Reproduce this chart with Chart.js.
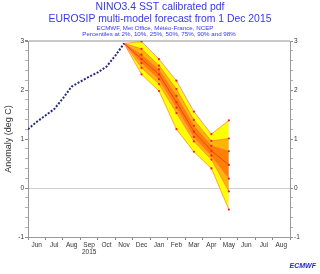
<!DOCTYPE html>
<html>
<head>
<meta charset="utf-8">
<script src="https://cdn.jsdelivr.net/npm/chart.js@4.4.0/dist/chart.umd.min.js"></script>
<style>
  body { margin: 0; background: #fff; }
  canvas { display: block; }
</style>
</head>
<body>
<canvas id="myChart" width="320" height="274"></canvas>
<script>
// month labels along the time axis (Jun 2015 .. Aug 2016)
var months = ['Jun', 'Jul', 'Aug', 'Sep', 'Oct', 'Nov', 'Dec', 'Jan', 'Feb', 'Mar', 'Apr', 'May', 'Jun', 'Jul', 'Aug'];
var yearLabel = '2015';
var yTickLabels = [-1, 0, 1, 2, 3];

// observed anomaly (x in months from 1 Jun 2015)
var obsX = [0, 0.5, 1, 1.5, 2, 2.5, 3, 3.5, 4, 4.5, 5, 5.5];
var obsY = [1.20, 1.35, 1.48, 1.61, 1.83, 2.07, 2.17, 2.27, 2.36, 2.48, 2.70, 2.95];

// forecast percentiles, Nov (start) .. May
var fcX = [5.5, 6.5, 7.5, 8.5, 9.5, 10.5, 11.5];
var p02 = [2.95, 2.32, 1.98, 1.20, 0.74, 0.40, -0.44];
var p10 = [2.95, 2.45, 2.12, 1.53, 0.95, 0.58, -0.07];
var p25 = [2.95, 2.55, 2.22, 1.64, 1.04, 0.66, 0.19];
var p50 = [2.95, 2.63, 2.32, 1.75, 1.15, 0.76, 0.47];
var p75 = [2.95, 2.72, 2.42, 1.88, 1.27, 0.86, 0.75];
var p90 = [2.95, 2.84, 2.50, 2.02, 1.39, 0.96, 1.01];
var p98 = [2.95, 2.99, 2.63, 2.19, 1.56, 1.10, 1.38];

var FONT = "'Liberation Sans', Arial, sans-serif";
var YELLOW = '#ffff00';
var LIGHT = '#ffb400';
var DARK = '#ff8000';

function pts(xs, ys) {
    var out = [];
    for (var i = 0; i < xs.length; i++) out.push({ x: xs[i], y: ys[i] });
    return out;
}

function band(data, fillColor, lineColor, lineWidth) {
    return {
        data: pts(fcX, data),
        borderColor: lineColor || '#ff5a5a',
        borderWidth: lineWidth || 0.6,
        backgroundColor: fillColor,
        fill: fillColor ? '-1' : false,
        pointRadius: function (ctx) { return ctx.dataIndex === 0 ? 0 : 1.1; },
        pointBackgroundColor: '#ff1a1a',
        pointBorderWidth: 0,
        tension: 0
    };
}

var datasets = [
    {
        data: pts(obsX, obsY),
        borderColor: '#28287f',
        borderWidth: 2,
        borderDash: [2, 1.6],
        borderCapStyle: 'butt',
        pointRadius: 0,
        fill: false,
        tension: 0
    },
    band(p02, null),
    band(p10, YELLOW),
    band(p25, LIGHT),
    band(p50, DARK, '#e83030', 0.9),
    band(p75, DARK),
    band(p90, LIGHT),
    band(p98, YELLOW)
];

function yMinorTicks(ax) {
    ax.ticks = [];
    for (var i = 0; i <= 20; i++) ax.ticks.push({ value: Math.round((-1 + i * 0.2) * 10) / 10 });
}

function yLabel(v) {
    return yTickLabels.indexOf(v) >= 0 ? String(v) : '';
}

var textPlugin = {
    id: 'texts',
    afterDraw: function (chart) {
        var c = chart.ctx;
        c.save();
        c.fillStyle = '#3535ff';
        c.textAlign = 'center';
        c.textBaseline = 'middle';
        c.font = '10.4px ' + FONT;
        c.fillText('NINO3.4 SST calibrated pdf', 160, 7);
        c.fillText('EUROSIP multi-model forecast from 1 Dec 2015', 160, 19);
        c.font = '6.2px ' + FONT;
        c.fillText('ECMWF, Met Office, Météo-France, NCEP', 155, 28);
        c.fillText('Percentiles at 2%, 10%, 25%, 50%, 75%, 90% and 98%', 159, 34.5);

        c.fillStyle = '#333';
        c.font = '9px ' + FONT;
        c.translate(9, 139);
        c.rotate(-Math.PI / 2);
        c.fillText('Anomaly (deg C)', 0, 0);
        c.restore();

        c.save();
        c.fillStyle = '#1f1fe0';
        c.font = 'bold italic 7px ' + FONT;
        c.textAlign = 'right';
        c.textBaseline = 'middle';
        c.fillText('ECMWF', 316, 266.5);
        c.restore();
    }
};

var ctx = document.getElementById('myChart');

var chart = new Chart(ctx, {
    type: 'line',
    data: { datasets: datasets },
    plugins: [textPlugin],
    options: {
        responsive: false,
        animation: false,
        layout: { padding: { top: 41, left: 0, right: 0, bottom: 0 } },
        plugins: {
            legend: { display: false },
            tooltip: { enabled: false },
            title: { display: false }
        },
        scales: {
            x: {
                type: 'linear',
                min: 0,
                max: 15,
                afterBuildTicks: function (ax) {
                    ax.ticks = [];
                    for (var i = 0; i <= 30; i++) ax.ticks.push({ value: i / 2 });
                },
                afterFit: function (ax) { ax.height = 37; },
                ticks: {
                    autoSkip: false,
                    maxRotation: 0,
                    padding: 1,
                    color: '#333',
                    font: { size: 6.5, family: FONT },
                    callback: function (v) {
                        if (Number.isInteger(v)) return '';
                        var m = months[Math.floor(v)];
                        return v === 3.5 ? [m, yearLabel] : m;
                    }
                },
                grid: {
                    drawOnChartArea: false,
                    tickLength: 3,
                    tickColor: function (c) {
                        return Number.isInteger(c.tick.value) ? '#8a8a8a' : 'rgba(0,0,0,0)';
                    }
                },
                border: { color: '#999' }
            },
            y: {
                min: -1,
                max: 3,
                position: 'left',
                afterBuildTicks: yMinorTicks,
                afterFit: function (ax) { ax.width = 28; },
                ticks: {
                    autoSkip: false,
                    padding: 1,
                    color: '#333',
                    font: { size: 6.5, family: FONT },
                    callback: yLabel
                },
                grid: {
                    color: function (c) {
                        if (!c.tick) return 'rgba(0,0,0,0)';
                        if (c.tick.value === 0) return '#cfcfcf';
                        if (c.tick.value === 3) return '#c8c8c8';
                        return 'rgba(0,0,0,0)';
                    },
                    lineWidth: function (c) { return c.tick && c.tick.value === 3 ? 2 : 1; },
                    tickLength: 3,
                    tickColor: function (c) {
                        return yTickLabels.indexOf(c.tick.value) >= 0 ? '#8a8a8a' : '#b0b0b0';
                    }
                },
                border: { color: '#999' }
            },
            y2: {
                min: -1,
                max: 3,
                position: 'right',
                afterBuildTicks: yMinorTicks,
                afterFit: function (ax) { ax.width = 30; },
                ticks: {
                    autoSkip: false,
                    padding: 1,
                    color: '#333',
                    font: { size: 6.5, family: FONT },
                    callback: yLabel
                },
                grid: {
                    drawOnChartArea: false,
                    tickLength: 3,
                    tickColor: function (c) {
                        return yTickLabels.indexOf(c.tick.value) >= 0 ? '#8a8a8a' : '#b0b0b0';
                    }
                },
                border: { color: '#999' }
            }
        }
    }
});
</script>
</body>
</html>
